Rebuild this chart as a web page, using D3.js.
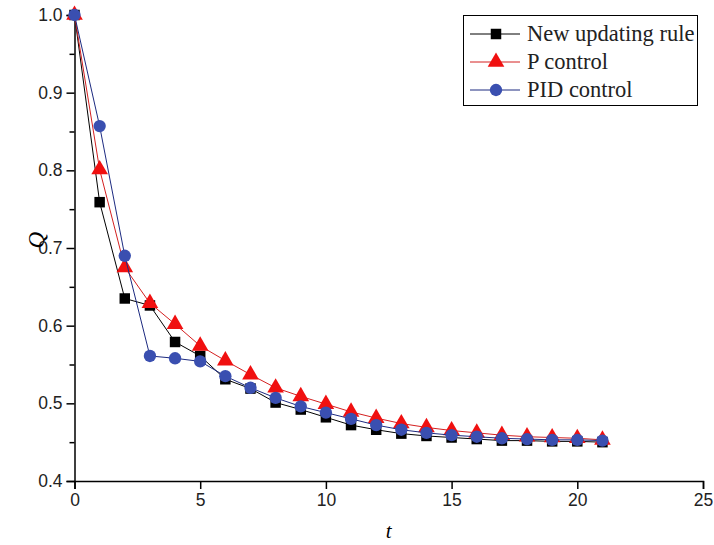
<!DOCTYPE html>
<html>
<head>
<meta charset="utf-8">
<script src="https://cdn.jsdelivr.net/npm/d3@7"></script>
<style>
  body { margin: 0; background: #fff; }
  svg { display: block; }
</style>
</head>
<body>
<svg></svg>
<script>
// Data
const tValues = [0, 1, 2, 3, 4, 5, 6, 7, 8, 9, 10, 11, 12, 13, 14, 15, 16, 17, 18, 19, 20, 21]
const newRule = [1.0, 0.759, 0.635, 0.626, 0.579, 0.561, 0.531, 0.519, 0.501, 0.492, 0.482, 0.472, 0.466, 0.461, 0.458, 0.456, 0.454, 0.452, 0.452, 0.451, 0.451, 0.450]
const pControl = [1.0, 0.801, 0.675, 0.629, 0.602, 0.574, 0.555, 0.537, 0.520, 0.509, 0.499, 0.489, 0.481, 0.474, 0.469, 0.465, 0.462, 0.459, 0.457, 0.456, 0.455, 0.453]
const pidControl = [1.0, 0.857, 0.690, 0.561, 0.558, 0.554, 0.535, 0.520, 0.507, 0.496, 0.488, 0.480, 0.472, 0.466, 0.462, 0.459, 0.457, 0.455, 0.454, 0.453, 0.453, 0.452]
const seriesNames = ['New updating rule', 'P control', 'PID control']
const xTicks = [0, 5, 10, 15, 20, 25]
const yTicks = [0.4, 0.5, 0.6, 0.7, 0.8, 0.9, 1.0]
const yMinorTicks = [0.45, 0.55, 0.65, 0.75, 0.85, 0.95]

let width = 714
let height = 545
let margin = { top: 15, right: 11, bottom: 64, left: 74.5 }

let svg = d3.select('svg')
    .attr('width', width)
    .attr('height', height)

let xScale = d3.scaleLinear()
    .domain([0, 25])
    .range([margin.left, width - margin.right])

let yScale = d3.scaleLinear()
    .domain([0.4, 1.0])
    .range([height - margin.bottom, margin.top])

// Axes
let xAxis = d3.axisBottom(xScale)
    .tickValues(xTicks)
    .tickSize(8)
    .tickPadding(5)
    .tickFormat(d3.format('d'))
svg.append('g')
    .attr('transform', 'translate(0,' + (height - margin.bottom) + ')')
    .call(xAxis)

let yAxis = d3.axisLeft(yScale)
    .tickValues(yTicks)
    .tickSize(8)
    .tickPadding(4)
    .tickFormat(d3.format('.1f'))
svg.append('g')
    .attr('transform', 'translate(' + margin.left + ',0)')
    .call(yAxis)

let yMinor = d3.axisLeft(yScale)
    .tickValues(yMinorTicks)
    .tickSize(5)
    .tickFormat('')
svg.append('g')
    .attr('transform', 'translate(' + margin.left + ',0)')
    .call(yMinor)
    .select('.domain').remove()

svg.selectAll('.tick line').attr('stroke', '#000').attr('stroke-width', 1.5)
svg.selectAll('.domain').attr('stroke', '#000').attr('stroke-width', 1.5)
svg.selectAll('.tick text')
    .attr('font-family', 'Liberation Sans, Arial, sans-serif')
    .attr('font-size', 17.5)
    .attr('fill', '#222')

// Axis titles
svg.append('text')
    .attr('x', (xScale(0) + xScale(25)) / 2)
    .attr('y', 538)
    .attr('text-anchor', 'middle')
    .attr('font-family', 'Liberation Serif, Times New Roman, serif')
    .attr('font-style', 'italic')
    .attr('font-size', 21)
    .text('t')

svg.append('text')
    .attr('transform', 'translate(44,' + yScale(0.71) + ') rotate(-90)')
    .attr('text-anchor', 'middle')
    .attr('font-family', 'Liberation Serif, Times New Roman, serif')
    .attr('font-style', 'italic')
    .attr('font-size', 23)
    .text('Q')

// Series
let series = [
    { name: seriesNames[0], values: newRule, line: '#000', fill: '#000', shape: d3.symbolSquare, size: 110 },
    { name: seriesNames[1], values: pControl, line: '#d42020', fill: '#f01010', shape: d3.symbolTriangle, size: 120 },
    { name: seriesNames[2], values: pidControl, line: '#1c2a80', fill: '#3a4fb0', shape: d3.symbolCircle, size: 120 }
]

let line = d3.line()
    .x((d, i) => xScale(tValues[i]))
    .y((d) => yScale(d))

series.forEach((s) => {
    svg.append('path')
        .datum(s.values)
        .attr('fill', 'none')
        .attr('stroke', s.line)
        .attr('stroke-width', 1)
        .attr('d', line)

    svg.selectAll(null)
        .data(s.values)
        .enter()
        .append('path')
        .attr('d', d3.symbol().type(s.shape).size(s.size))
        .attr('fill', s.fill)
        .attr('transform', (d, i) => 'translate(' + xScale(tValues[i]) + ',' + yScale(d) + ')')
})

// Legend
let legend = svg.append('g')
legend.append('rect')
    .attr('x', 463.5)
    .attr('y', 15.5)
    .attr('width', 234)
    .attr('height', 90)
    .attr('fill', '#fff')
    .attr('stroke', '#000')
    .attr('stroke-width', 1)

series.forEach((s, i) => {
    let y = 34 + i * 28
    legend.append('line')
        .attr('x1', 470).attr('x2', 520)
        .attr('y1', y).attr('y2', y)
        .attr('stroke', s.line)
        .attr('stroke-width', 1)
    legend.append('path')
        .attr('d', d3.symbol().type(s.shape).size(s.size))
        .attr('fill', s.fill)
        .attr('transform', 'translate(496,' + y + ')')
    legend.append('text')
        .attr('x', 527)
        .attr('y', y + 7)
        .attr('font-family', 'Liberation Serif, Times New Roman, serif')
        .attr('font-size', 22.5)
        .attr('fill', '#222')
        .text(s.name)
})
</script>
</body>
</html>
